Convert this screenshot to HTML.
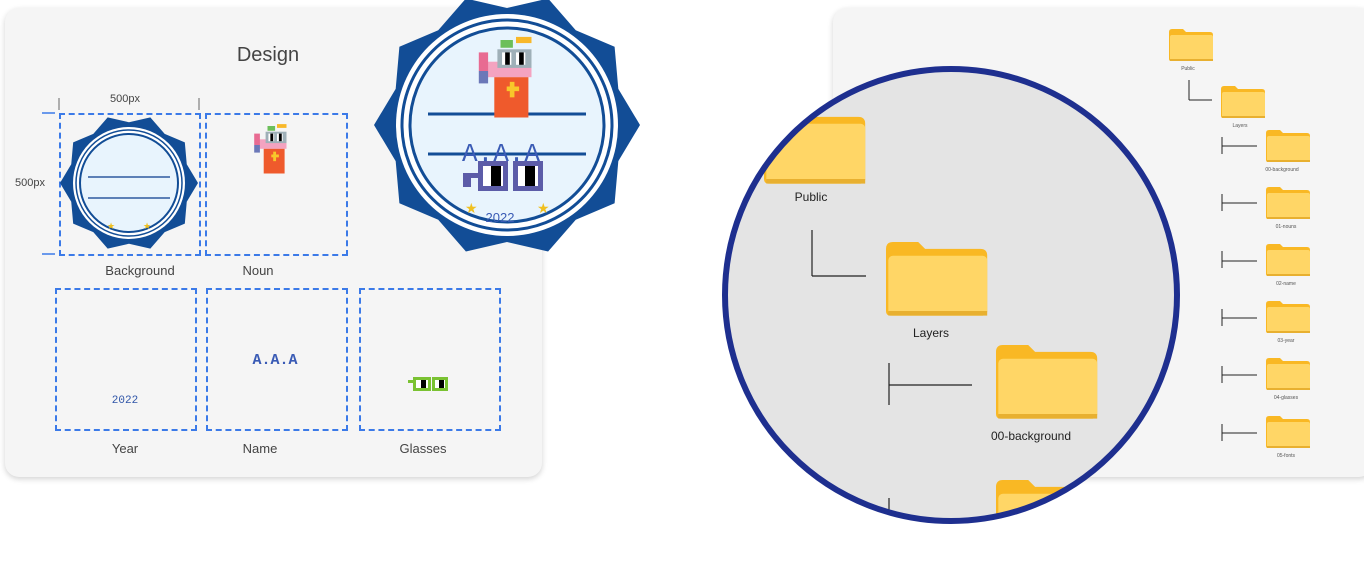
<!DOCTYPE html>
<html><head><meta charset="utf-8"><style>
body{margin:0;width:1364px;height:575px;background:#fff;position:relative;overflow:hidden;font-family:"Liberation Sans",sans-serif;}
.card{position:absolute;background:#f5f5f5;border-radius:14px;box-shadow:0 2px 6px rgba(0,0,0,.18);}
.lbl{position:absolute;font-size:13px;color:#444;text-align:center;}
.db{position:absolute;border:2px dashed #3b7ae8;}
svg{position:absolute;left:0;top:0}
</style></head><body>
<div class="card" style="left:5px;top:8px;width:537px;height:469px"></div>
<div class="card" style="left:833px;top:8px;width:540px;height:469px"></div>
<div class="lbl" style="left:200px;top:44px;width:136px;font-size:20px;color:#444">Design</div>
<div class="lbl" style="left:95px;top:93px;width:60px;font-size:11px">500px</div>
<div class="lbl" style="left:10px;top:177px;width:40px;font-size:11px">500px</div>
<div class="db" style="left:59px;top:113px;width:138px;height:139px"></div>
<div class="db" style="left:205px;top:113px;width:139px;height:139px"></div>
<div class="db" style="left:55px;top:288px;width:138px;height:139px"></div>
<div class="db" style="left:206px;top:288px;width:138px;height:139px"></div>
<div class="db" style="left:359px;top:288px;width:138px;height:139px"></div>
<div class="lbl" style="left:90px;top:263px;width:100px">Background</div>
<div class="lbl" style="left:228px;top:263px;width:60px">Noun</div>
<div class="lbl" style="left:95px;top:441px;width:60px">Year</div>
<div class="lbl" style="left:230px;top:441px;width:60px">Name</div>
<div class="lbl" style="left:393px;top:441px;width:60px">Glasses</div>
<div class="lbl" style="left:95px;top:395px;width:60px;font-size:11px;color:#2f55a8;font-family:'Liberation Mono',monospace">2022</div>
<div class="lbl" style="left:240px;top:352px;width:70px;font-size:15px;font-weight:bold;color:#3a5bb5;font-family:'Liberation Mono',monospace">A.A.A</div>
<svg width="1364" height="575">
<defs>
<g id="fold"><path d="M0 3 Q0 0 3 0 H14 L17 3 H41 Q44 3 44 6 V30 Q44 32 42 32 H2 Q0 32 0 30Z" fill="#f9b824"/><rect x="1" y="6" width="43" height="26" rx="2" fill="#ffd666"/><rect x="1" y="30" width="43" height="2" fill="#e8b030"/></g>
<clipPath id="cc"><circle cx="951" cy="295" r="225"/></clipPath>
<polygon id="gear" points="100,0 83.7,27.2 80.9,58.8 51.7,71.2 30.9,95.1 0,88 -30.9,95.1 -51.7,71.2 -80.9,58.8 -83.7,27.2 -100,0 -83.7,-27.2 -80.9,-58.8 -51.7,-71.2 -30.9,-95.1 0,-88 30.9,-95.1 51.7,-71.2 80.9,-58.8 83.7,-27.2" fill="#124d96"/>
<g id="noun"><rect x="0" y="14" width="30" height="10" fill="#f4a3c0"/><rect x="6" y="24" width="22" height="26" fill="#ef5a2c"/><rect x="8" y="6" width="22" height="12" fill="#9fb0b8"/><rect x="11" y="8" width="6" height="8" fill="#fff"/><rect x="20" y="8" width="6" height="8" fill="#fff"/><rect x="13" y="8" width="3" height="8" fill="#000"/><rect x="22" y="8" width="3" height="8" fill="#000"/><rect x="10" y="0" width="8" height="5" fill="#6cbf5a"/><rect x="20" y="-2" width="10" height="4" fill="#f8b82a"/><rect x="-4" y="8" width="6" height="12" fill="#e86b92"/><rect x="-4" y="20" width="6" height="8" fill="#6b78b8"/><rect x="14" y="30" width="8" height="3" fill="#f8c82a"/><rect x="16" y="27" width="3" height="10" fill="#f8c82a"/></g>
</defs>
<line x1="59" y1="98" x2="59" y2="110" stroke="#666"/><line x1="199" y1="98" x2="199" y2="110" stroke="#666"/>
<line x1="42" y1="113" x2="55" y2="113" stroke="#3b7ae8" stroke-width="1.5"/><line x1="42" y1="254" x2="55" y2="254" stroke="#3b7ae8" stroke-width="1.5"/>
<!-- small badge -->
<g transform="translate(129,183)">
<use href="#gear" transform="scale(0.69)"/>
<circle r="56" fill="#fff"/><circle r="53" fill="none" stroke="#124d96" stroke-width="1.5"/><circle r="49" fill="#e8f4fd" stroke="#124d96" stroke-width="2"/>
<line x1="-41" y1="-6" x2="41" y2="-6" stroke="#2e5aa0" stroke-width="1.5"/><line x1="-41" y1="15" x2="41" y2="15" stroke="#2e5aa0" stroke-width="1.5"/>
<text x="-22" y="46" font-size="9" fill="#f0c020">★</text><text x="14" y="46" font-size="9" fill="#f0c020">★</text>
</g>
<use href="#noun" transform="translate(258,126) scale(0.95)"/>
<g transform="translate(408,377)"><rect x="0" y="3" width="6" height="3" fill="#7ac232"/><rect x="5" y="0" width="18" height="14" fill="#7ac232"/><rect x="8" y="3" width="12" height="8" fill="#fff"/><rect x="13" y="3" width="5" height="8" fill="#000"/><rect x="24" y="0" width="16" height="14" fill="#7ac232"/><rect x="27" y="3" width="10" height="8" fill="#fff"/><rect x="31" y="3" width="5" height="8" fill="#000"/></g>
<!-- big badge -->
<g transform="translate(507,125)">
<use href="#gear" transform="scale(1.33)"/>
<circle r="111" fill="#fff"/><circle r="105" fill="none" stroke="#124d96" stroke-width="3"/><circle r="97" fill="#e8f4fd" stroke="#124d96" stroke-width="3"/>
<line x1="-79" y1="-11" x2="79" y2="-11" stroke="#124d96" stroke-width="3"/><line x1="-79" y1="29" x2="79" y2="29" stroke="#124d96" stroke-width="3"/>
<text x="-6" y="36" font-size="26" fill="#3a5bb5" text-anchor="middle" font-family="Liberation Mono,monospace">A.A.A</text>
<g transform="translate(-44,36)" fill="#5c5ca8"><rect x="0" y="12" width="8" height="14"/><rect x="0" y="12" width="16" height="5"/><rect x="15" y="0" width="30" height="30"/><rect x="20" y="5" width="20" height="20" fill="#fff"/><rect x="28" y="5" width="10" height="20" fill="#000"/><rect x="50" y="0" width="30" height="30"/><rect x="55" y="5" width="20" height="20" fill="#fff"/><rect x="62" y="5" width="10" height="20" fill="#000"/></g>
<text x="-42" y="88" font-size="14" fill="#f0c020">★</text><text x="30" y="88" font-size="14" fill="#f0c020">★</text>
<text x="-7" y="97" font-size="13" fill="#3a5bb5" text-anchor="middle">2022</text>
</g>
<use href="#noun" transform="translate(485,40) scale(1.55)"/>
<!-- right small tree -->
<use href="#fold" x="1169" y="29"/>
<use href="#fold" x="1221" y="86"/>
<line x1="1189" y1="80" x2="1189" y2="100" stroke="#222"/><line x1="1189" y1="100" x2="1212" y2="100" stroke="#222"/>
<g stroke="#222">
<line x1="1222" y1="137" x2="1222" y2="154"/><line x1="1222" y1="146" x2="1257" y2="146"/>
<line x1="1222" y1="194" x2="1222" y2="211"/><line x1="1222" y1="203" x2="1257" y2="203"/>
<line x1="1222" y1="251" x2="1222" y2="268"/><line x1="1222" y1="261" x2="1257" y2="261"/>
<line x1="1222" y1="309" x2="1222" y2="326"/><line x1="1222" y1="318" x2="1257" y2="318"/>
<line x1="1222" y1="366" x2="1222" y2="383"/><line x1="1222" y1="375" x2="1257" y2="375"/>
<line x1="1222" y1="424" x2="1222" y2="441"/><line x1="1222" y1="433" x2="1257" y2="433"/>
</g>
<use href="#fold" x="1266" y="130"/><use href="#fold" x="1266" y="187"/><use href="#fold" x="1266" y="244"/><use href="#fold" x="1266" y="301"/><use href="#fold" x="1266" y="358"/><use href="#fold" x="1266" y="416"/>
<g font-size="5" fill="#555" text-anchor="middle">
<text x="1188" y="70">Public</text><text x="1240" y="127">Layers</text><text x="1282" y="171">00-background</text><text x="1286" y="228">01-nouns</text><text x="1286" y="285">02-name</text><text x="1286" y="342">03-year</text><text x="1286" y="399">04-glasses</text><text x="1286" y="457">05-fonts</text>
</g>
<!-- magnifier -->
<circle cx="951" cy="295" r="226" fill="#e4e4e4"/>
<g clip-path="url(#cc)">
<use href="#fold" transform="translate(764,110) scale(2.3)"/>
<use href="#fold" transform="translate(886,242) scale(2.3)"/>
<use href="#fold" transform="translate(996,345) scale(2.3)"/>
<use href="#fold" transform="translate(996,480) scale(2.3)"/>
<g stroke="#222" stroke-width="1.2"><line x1="812" y1="230" x2="812" y2="276"/><line x1="812" y1="276" x2="866" y2="276"/>
<line x1="889" y1="363" x2="889" y2="405"/><line x1="889" y1="385" x2="972" y2="385"/><line x1="889" y1="498" x2="889" y2="530"/></g>
<g font-size="12" fill="#222" text-anchor="middle"><text x="811" y="201">Public</text><text x="931" y="337">Layers</text><text x="1031" y="440">00-background</text></g>
</g>
<circle cx="951" cy="295" r="226" fill="none" stroke="#1e2f8f" stroke-width="6"/>
</svg>
</body></html>
